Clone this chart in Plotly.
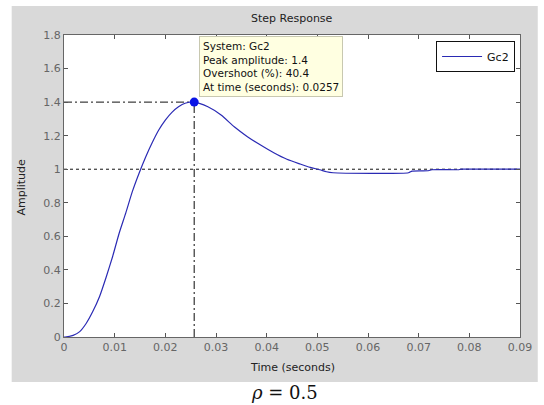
import plotly.graph_objects as go

# Step response of Gc2
time_s = [0.0, 0.0002, 0.0018, 0.0031, 0.0044, 0.0057, 0.0070, 0.0083, 0.0096, 0.0109,
          0.0122, 0.0135, 0.0148, 0.0161, 0.0174, 0.0187, 0.0200, 0.0213, 0.0226, 0.0239,
          0.0257, 0.0284, 0.0310, 0.0336, 0.0362, 0.0388, 0.0414, 0.0440, 0.0466, 0.0486,
          0.0505, 0.0518, 0.0531, 0.0680, 0.0687, 0.0719, 0.0726, 0.0778, 0.0784, 0.0900]
amplitude = [0.0, 0.0, 0.010, 0.032, 0.082, 0.153, 0.24, 0.355, 0.48, 0.62,
             0.74, 0.868, 0.975, 1.072, 1.158, 1.234, 1.293, 1.339, 1.372, 1.393,
             1.4, 1.372, 1.323, 1.253, 1.194, 1.144, 1.098, 1.059, 1.031, 1.011,
             0.997, 0.985, 0.979, 0.979, 0.989, 0.991, 0.997, 0.997, 1.0, 1.0]

peak_time = 0.0257
peak_amp = 1.4
final_value = 1.0
overshoot_pct = 40.4
system_name = "Gc2"

x_ticks = [0, 0.01, 0.02, 0.03, 0.04, 0.05, 0.06, 0.07, 0.08, 0.09]
x_tick_text = ["0", "0.01", "0.02", "0.03", "0.04", "0.05", "0.06", "0.07", "0.08", "0.09"]
y_ticks = [0, 0.2, 0.4, 0.6, 0.8, 1.0, 1.2, 1.4, 1.6, 1.8]
y_tick_text = ["0", "0.2", "0.4", "0.6", "0.8", "1", "1.2", "1.4", "1.6", "1.8"]

W, H = 544, 405
L, R, T, B = 64, 18, 35, 68
pw, ph = W - L - R, H - T - B


def px_x(p):
    return (p - L) / pw


def px_y(p):
    return (H - B - p) / ph


FONT = "DejaVu Sans, Arial, sans-serif"
LINE_BLUE = "#2a2ab4"

fig = go.Figure()

# reference line at final value
fig.add_trace(go.Scatter(x=[x_ticks[0], x_ticks[-1]], y=[final_value, final_value], mode="lines",
                         line=dict(color="#111", width=1, dash="3px,3px"),
                         showlegend=False, hoverinfo="skip"))
# peak guides
fig.add_trace(go.Scatter(x=[x_ticks[0], peak_time], y=[peak_amp, peak_amp], mode="lines",
                         line=dict(color="#111", width=1, dash="8px,3px,2px,3px"),
                         showlegend=False, hoverinfo="skip"))
fig.add_trace(go.Scatter(x=[peak_time, peak_time], y=[y_ticks[0], peak_amp], mode="lines",
                         line=dict(color="#333", width=1.2, dash="8px,3px,2px,3px"),
                         showlegend=False, hoverinfo="skip"))
# response
fig.add_trace(go.Scatter(x=time_s, y=amplitude, mode="lines", name=system_name,
                         line=dict(color=LINE_BLUE, width=1.2, shape="spline", smoothing=0.6)))
# peak marker
fig.add_trace(go.Scatter(x=[peak_time], y=[peak_amp], mode="markers",
                         marker=dict(color="#0a14e6", size=9),
                         showlegend=False, hoverinfo="skip"))

axis_common = dict(showgrid=False, zeroline=False, showline=True, linecolor="#666", linewidth=1,
                   ticks="inside", ticklen=4, tickcolor="#555", mirror="ticks",
                   tickfont=dict(family=FONT, size=11, color="#666"))

fig.update_xaxes(range=[0, 0.09], tickvals=x_ticks, ticktext=x_tick_text, **axis_common)
fig.update_yaxes(range=[0, 1.8], tickvals=y_ticks, ticktext=y_tick_text, **axis_common)

shapes = [
    dict(type="rect", xref="paper", yref="paper", layer="below",
         x0=px_x(11), x1=px_x(W), y0=px_y(382), y1=px_y(6),
         fillcolor="#d9d9d9", line=dict(width=0)),
    dict(type="rect", xref="paper", yref="paper", layer="below",
         x0=0, x1=1, y0=0, y1=1, fillcolor="white", line=dict(width=0)),
]

annotations = [
    dict(text="Step Response", xref="paper", yref="paper", x=px_x(295), y=px_y(18),
         xanchor="center", yanchor="middle", showarrow=False,
         font=dict(family=FONT, size=11, color="#222")),
    dict(text="Time (seconds)", xref="paper", yref="paper", x=px_x(295), y=px_y(367),
         xanchor="center", yanchor="middle", showarrow=False,
         font=dict(family=FONT, size=11, color="#222")),
    dict(text="Amplitude", xref="paper", yref="paper", x=px_x(20), y=px_y(187),
         xanchor="center", yanchor="middle", showarrow=False, textangle=-90,
         font=dict(family=FONT, size=11, color="#222")),
    dict(text="<i>ρ</i> = 0.5", xref="paper", yref="paper", x=px_x(287), y=px_y(392),
         xanchor="center", yanchor="middle", showarrow=False,
         font=dict(family="DejaVu Serif, Liberation Serif, serif", size=18, color="#111")),
    dict(text=(f"System: {system_name}<br>Peak amplitude: {peak_amp}<br>"
               f"Overshoot (%): {overshoot_pct}<br>At time (seconds): {peak_time}"),
         xref="paper", yref="paper", x=px_x(201), y=px_y(36),
         xanchor="left", yanchor="top", showarrow=False, align="left",
         bgcolor="#ffffe1", bordercolor="#c8c8b0", borderwidth=1, borderpad=3,
         font=dict(family=FONT, size=10.5, color="#111")),
]

fig.update_layout(
    width=W, height=H,
    margin=dict(l=L, r=R, t=T, b=B),
    paper_bgcolor="white", plot_bgcolor="white",
    shapes=shapes, annotations=annotations,
    showlegend=True,
    legend=dict(x=px_x(521), y=px_y(41), xanchor="right", yanchor="top",
                bgcolor="white", bordercolor="#111", borderwidth=1, itemwidth=40,
                font=dict(family=FONT, size=11, color="#111")),
)

fig.write_html("out.html")
